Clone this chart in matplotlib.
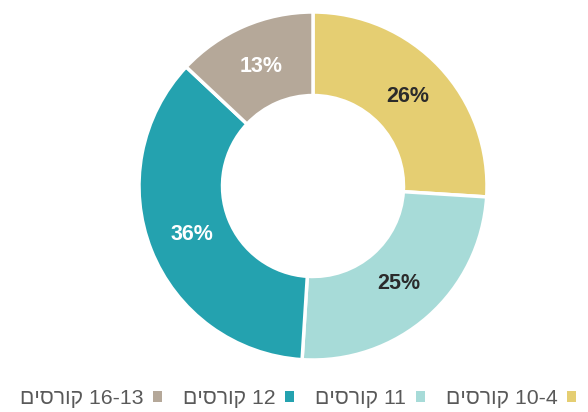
import matplotlib
matplotlib.use("Agg")
import matplotlib.pyplot as plt
from matplotlib.patches import Patch
import numpy as np
import re

plt.rcParams['font.family'] = ['Liberation Sans', 'DejaVu Sans']

categories = ["10-4 קורסים", "11 קורסים", "12 קורסים", "16-13 קורסים"]
values = [26, 25, 36, 13]
colors = ["#E5CE72", "#A7DBD8", "#24A2AF", "#B5A899"]
label_colors = ["#2b2b2b", "#2b2b2b", "#ffffff", "#ffffff"]


def visual(s):
    # reorder a logical RTL string into visual (left-to-right glyph) order
    tokens = re.findall(r'[\u0590-\u05FF]+|[^\u0590-\u05FF\s]+|\s+', s)
    tokens = tokens[::-1]
    return "".join(t[::-1] if re.match(r'[\u0590-\u05FF]', t) else t for t in tokens)


fig = plt.figure(figsize=(5.88, 4.12), dpi=100)
ax = fig.add_axes([139 / 588, 52 / 412, 348 / 588, 348 / 412])

wedges, texts = ax.pie(values, colors=colors, startangle=90, counterclock=False,
                       radius=1.0,
                       wedgeprops=dict(width=0.48, edgecolor="white", linewidth=2.5))
for w, v, c in zip(wedges, values, label_colors):
    mid = np.deg2rad((w.theta1 + w.theta2) / 2)
    r = 0.75
    ax.text(r * np.cos(mid), r * np.sin(mid), f"{v}%", ha="center", va="center",
            fontsize=15.5, fontweight="bold", color=c)
ax.set_xlim(-1.0, 1.0)
ax.set_ylim(-1.0, 1.0)
ax.set_aspect("equal")

order = [3, 2, 1, 0]
handles = [Patch(facecolor=colors[i], edgecolor="none") for i in order]
labels = [visual(categories[i]) for i in order]
fig.legend(handles, labels, loc="center", bbox_to_anchor=(298 / 588, 1 - 399 / 412),
           ncol=4, frameon=False, markerfirst=False, fontsize=15.3,
           handlelength=0.42, handleheight=0.42, handletextpad=0.45,
           columnspacing=1.0, labelcolor="#595959")

fig.savefig("out.png", dpi=100, facecolor="white")
